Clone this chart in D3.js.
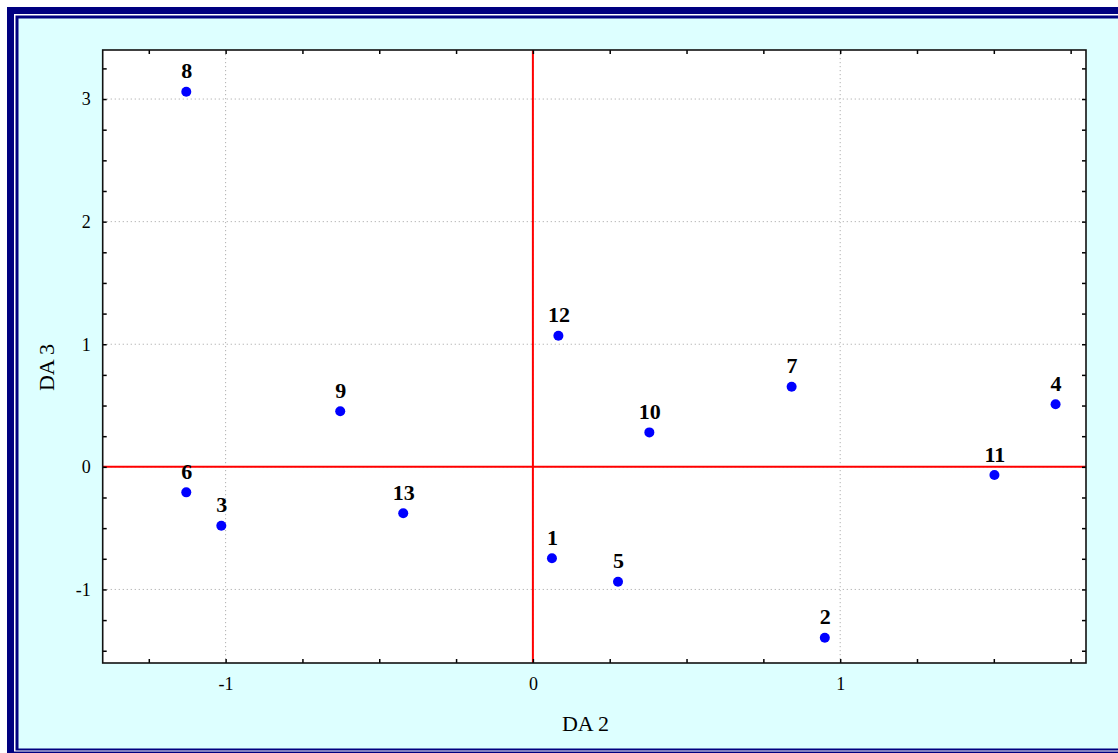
<!DOCTYPE html>
<html>
<head>
<meta charset="utf-8">
<script src="https://cdn.jsdelivr.net/npm/d3@7"></script>
<style>
  html, body { margin: 0; padding: 0; background: #ffffff; overflow: hidden; }
  svg { display: block; overflow: hidden; }
  text { font-family: "Liberation Serif", "Times New Roman", serif; }
</style>
</head>
<body>
<svg id="chart" width="1118" height="753"></svg>
<script>
// Observations (DA 2 / DA 3 scores)
const ids = ["1", "2", "3", "4", "5", "6", "7", "8", "9", "10", "11", "12", "13"];
const da2 = [0.062, 0.950, -1.014, 1.701, 0.277, -1.128, 0.842, -1.128, -0.627, 0.379, 1.502, 0.083, -0.422];
const da3 = [-0.746, -1.394, -0.480, 0.510, -0.937, -0.208, 0.653, 3.060, 0.453, 0.281, -0.067, 1.069, -0.379];

// Axis setup
const xDomain = [-1.4, 1.8];
const yDomain = [-1.6, 3.4];
const xTicks = d3.range(-1.25, 1.8, 0.25);
const yTicks = d3.range(-1.5, 3.3, 0.25);
const xTitle = "DA 2";
const yTitle = "DA 3";

const svg = d3.select("#chart");
const W = 1118, H = 753;

// Double navy window frame with light cyan panel (right edge runs past the view)
svg.append("rect").attr("x", 7).attr("y", 7).attr("width", W + 40).attr("height", H + 40).attr("fill", "#000080");
svg.append("rect").attr("x", 14).attr("y", 14).attr("width", W + 40).attr("height", 737.5).attr("fill", "#ffffff");
svg.append("rect").attr("x", 15.5).attr("y", 15.5).attr("width", W + 40).attr("height", 735).attr("fill", "#000080");
svg.append("rect").attr("x", 18.5).attr("y", 18.5).attr("width", W + 40).attr("height", 730).attr("fill", "#ddffff");

const plot = { left: 102.7, right: 1086, top: 50, bottom: 663 };
const x = d3.scaleLinear().domain(xDomain).range([plot.left, plot.right]);
const y = d3.scaleLinear().domain(yDomain).range([plot.bottom, plot.top]);

// Plot background
svg.append("rect")
  .attr("x", plot.left).attr("y", plot.top)
  .attr("width", plot.right - plot.left).attr("height", plot.bottom - plot.top)
  .attr("fill", "#ffffff");

// Dotted grid at whole units
const grid = svg.append("g").attr("stroke", "#b0b0b0").attr("stroke-width", 1).attr("stroke-dasharray", "1.2,2.8");
grid.selectAll("line.gx").data(xTicks.filter(Number.isInteger)).join("line")
  .attr("x1", d => x(d)).attr("x2", d => x(d)).attr("y1", plot.top).attr("y2", plot.bottom);
grid.selectAll("line.gy").data(yTicks.filter(Number.isInteger)).join("line")
  .attr("y1", d => y(d)).attr("y2", d => y(d)).attr("x1", plot.left).attr("x2", plot.right);

// Red reference lines through the origin
svg.append("line").attr("x1", x(0)).attr("x2", x(0)).attr("y1", plot.top).attr("y2", plot.bottom)
  .attr("stroke", "#ff0000").attr("stroke-width", 2);
svg.append("line").attr("y1", y(0)).attr("y2", y(0)).attr("x1", plot.left).attr("x2", plot.right)
  .attr("stroke", "#ff0000").attr("stroke-width", 2);

// Points and their labels
const pts = ids.map((id, i) => ({ id, a: da2[i], b: da3[i] }));
svg.append("g").selectAll("circle").data(pts).join("circle")
  .attr("cx", d => x(d.a)).attr("cy", d => y(d.b)).attr("r", 5).attr("fill", "#0000ff");
svg.append("g").selectAll("text").data(pts).join("text")
  .attr("x", d => x(d.a) + 0.5).attr("y", d => y(d.b) - 13.3)
  .attr("text-anchor", "middle").attr("font-size", 22).attr("font-weight", "bold").attr("fill", "#000")
  .text(d => d.id);

// Axes with inward ticks on all four sides
const fmt = d => Number.isInteger(d) ? String(d) : "";
function styleAxis(g) {
  g.attr("font-size", null).attr("font-family", null);
  g.select(".domain").remove();
  g.selectAll(".tick line").attr("stroke", "#000").attr("stroke-width", 1.5);
  g.selectAll(".tick text").attr("fill", "#000")
    .style("font-size", "18px")
    .style("font-family", '"Liberation Serif", "Times New Roman", serif');
}
svg.append("g").attr("transform", `translate(0,${plot.bottom})`)
  .call(d3.axisBottom(x).tickValues(xTicks).tickSize(-4).tickSizeOuter(0).tickPadding(14).tickFormat(fmt))
  .call(styleAxis);
svg.append("g").attr("transform", `translate(0,${plot.top})`)
  .call(d3.axisTop(x).tickValues(xTicks).tickSize(-4).tickSizeOuter(0).tickFormat(() => ""))
  .call(styleAxis);
svg.append("g").attr("transform", `translate(${plot.left},0)`)
  .call(d3.axisLeft(y).tickValues(yTicks).tickSize(-4).tickSizeOuter(0).tickPadding(12).tickFormat(fmt))
  .call(styleAxis);
svg.append("g").attr("transform", `translate(${plot.right},0)`)
  .call(d3.axisRight(y).tickValues(yTicks).tickSize(-4).tickSizeOuter(0).tickFormat(() => ""))
  .call(styleAxis);

// Plot frame
svg.append("rect")
  .attr("x", plot.left).attr("y", plot.top)
  .attr("width", plot.right - plot.left).attr("height", plot.bottom - plot.top)
  .attr("fill", "none").attr("stroke", "#111").attr("stroke-width", 1.6);

// Axis titles
svg.append("text").attr("x", 585.5).attr("y", 731)
  .attr("text-anchor", "middle").attr("font-size", 22).attr("fill", "#000").text(xTitle);
svg.append("text").attr("transform", "translate(53.5,367.5) rotate(-90)")
  .attr("text-anchor", "middle").attr("font-size", 22).attr("fill", "#000").text(yTitle);
</script>
</body>
</html>
